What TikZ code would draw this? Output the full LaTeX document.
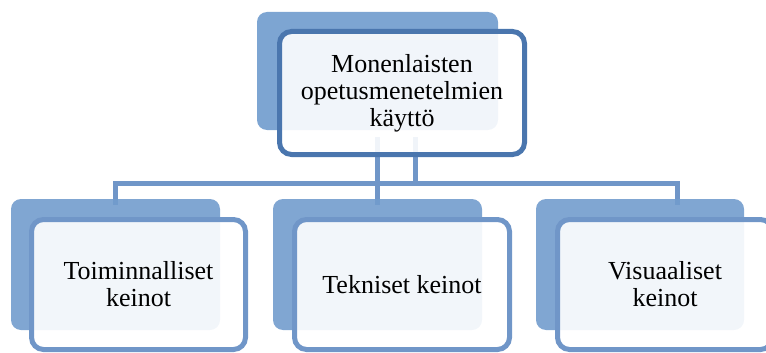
\documentclass[tikz,border=0pt]{standalone}
\usepackage{fontspec}
\setmainfont{Liberation Serif}
\definecolor{backtop}{RGB}{111,155,205}
\definecolor{backbot}{RGB}{114,156,205}
\definecolor{edgetop}{RGB}{74,118,174}
\definecolor{edgebot}{RGB}{112,150,200}
\definecolor{conncol}{RGB}{112,150,200}
\tikzset{
  backbox/.style={rectangle, rounded corners=10pt, fill=#1, fill opacity=0.9, draw=none, inner sep=0pt, outer sep=0pt},
  frontbox/.style={rectangle, rounded corners=12pt, fill=white, fill opacity=0.9, text opacity=1, draw=#1, line width=5pt, inner sep=0pt, outer sep=0pt, align=center, font=\fontsize{26}{27}\selectfont},
  conn/.style={draw=conncol, line width=5pt},
}
\begin{document}
\begin{tikzpicture}[x=1pt,y=-1pt]
\useasboundingbox (0,0) rectangle (766,353);
\clip (0,0) rectangle (766,353);
% connector points
\coordinate (t1) at (377.5,137);
\coordinate (t2) at (415.5,137);
\coordinate (h2) at (415.5,183.5);
\coordinate (hl) at (115.5,183.5);
\coordinate (hr) at (677.5,183.5);
\coordinate (bl) at (115.5,205);
\coordinate (bm) at (377.5,205);
\coordinate (br) at (677.5,205);
\draw[conn] (bl) -- (hl) -- (hr) -- (br);
\draw[conn] (t1) -- (bm);
\draw[conn] (t2) -- (h2);
% top
\node[backbox=backtop, minimum width=241pt, minimum height=118pt] (topback) at (377.5,71) {};
\node[frontbox=edgetop, minimum width=245pt, minimum height=123pt] (top) at (402,93) {Monenlaisten\\opetusmenetelmien\\käyttö};
% bottom back boxes
\node[backbox=backbot, minimum width=209pt, minimum height=131pt] (lback) at (115.5,264.5) {};
\node[backbox=backbot, minimum width=209pt, minimum height=131pt] (mback) at (377.5,264.5) {};
\node[backbox=backbot, minimum width=208pt, minimum height=131pt] (rback) at (640,264.5) {};
% bottom front boxes
\node[frontbox=edgebot, minimum width=214pt, minimum height=130pt] (left) at (138.5,284.5) {Toiminnalliset\\keinot};
\node[frontbox=edgebot, minimum width=215pt, minimum height=130pt] (mid) at (402,284.5) {Tekniset keinot};
\node[frontbox=edgebot, minimum width=215pt, minimum height=130pt] (right) at (665,284.5) {Visuaaliset\\keinot};
\end{tikzpicture}
\end{document}
